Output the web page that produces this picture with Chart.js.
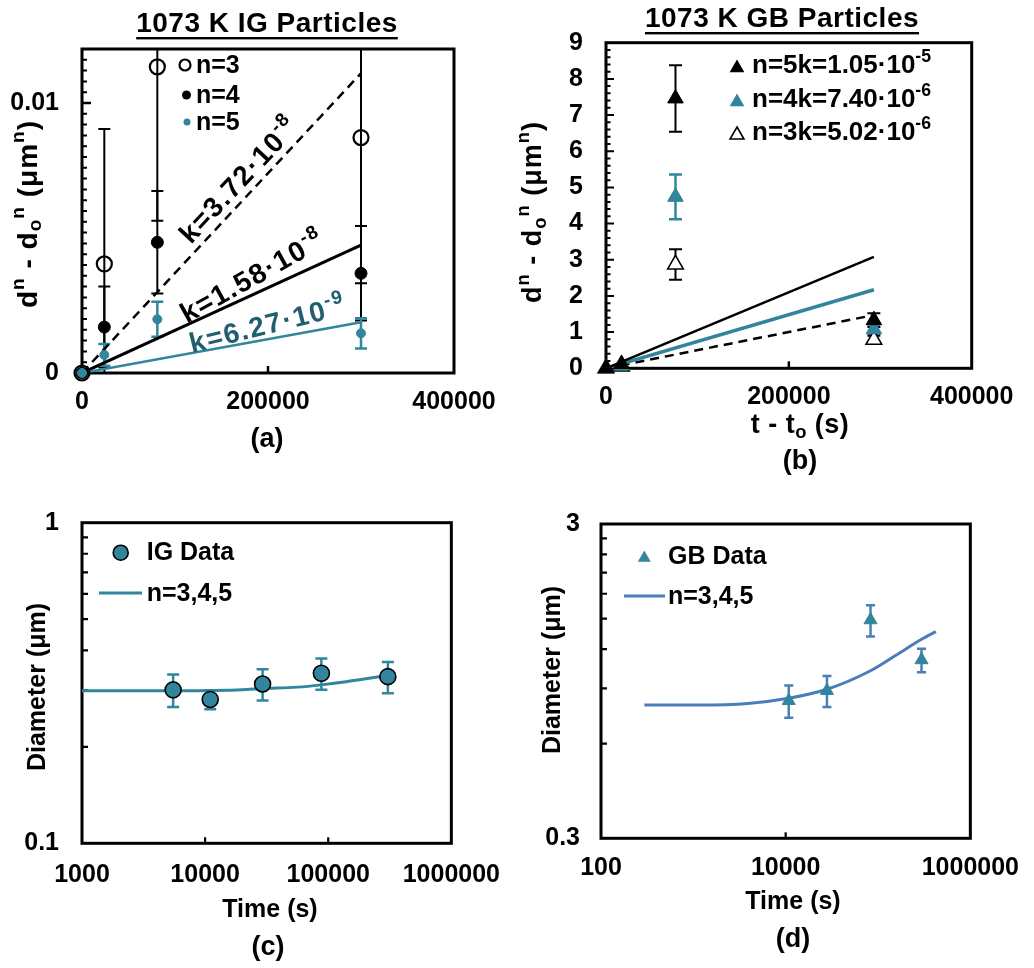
<!DOCTYPE html>
<html><head><meta charset="utf-8"><title>1073 K particle coarsening</title>
<script src="https://cdn.jsdelivr.net/npm/chart.js@4.4.1/dist/chart.umd.min.js"></script>
<style>
html,body{margin:0;padding:0;background:#fff;overflow:hidden}
#fig{position:relative;width:1034px;height:968px;background:#fff}
canvas{position:absolute;display:block}
</style></head><body>
<div id="fig">
<canvas id="pa" width="517" height="480" style="left:0;top:0"></canvas>
<canvas id="pb" width="517" height="480" style="left:517px;top:0"></canvas>
<canvas id="pc" width="517" height="498" style="left:0;top:470px"></canvas>
<canvas id="pd" width="517" height="498" style="left:517px;top:470px"></canvas>
</div>
<script>
// ---------- panel (a): 1073 K IG particles, d^n - d0^n vs t - t0 ----------
const igDt    = [0, 24000, 81000, 300000];
const igN3    = [0, 0.00404, 0.01134, 0.00872];
const igN3Err = [0, 0.0050, 0.0057, 0.0054];
const igN4    = [0, 0.0017, 0.00484, 0.00369];
const igN4Err = [0, 0.0015, 0.0019, 0.00175];
const igN5    = [0, 0.00067, 0.00199, 0.00147];
const igN5Err = [0, 0.0004, 0.00065, 0.00056];
const igFitDt = [0, 300000];
const igFitN3 = [0, 0.0111];
const igFitN4 = [0, 0.00474];
const igFitN5 = [0, 0.00188];
const aXTicks = [0, 200000, 400000];
const aYTicks = [0, 0.01];

// ---------- panel (b): 1073 K GB particles ----------
const gbDt    = [0, 17000, 76000, 293000];
const gbN5    = [0, 0.12, 7.46, 1.33];
const gbN5Err = [0, 0, 0.92, 0.19];
const gbN4    = [0, 0.08, 4.74, 1.08];
const gbN4Err = [0, 0, 0.62, 0.13];
const gbN3    = [0, 0.05, 2.87, 0.79];
const gbN3Err = [0, 0, 0.42, 0.11];
const gbFitDt = [0, 293000];
const gbFitN5 = [0, 3.08];
const gbFitN4 = [0, 2.17];
const gbFitN3 = [0, 1.47];
const bXTicks = [0, 200000, 400000];
const bYTicks = [0, 1, 2, 3, 4, 5, 6, 7, 8, 9];

// ---------- panel (c): IG diameter vs time ----------
const igTime      = [5500, 11000, 29300, 88000, 305000];
const igDiam      = [0.301, 0.281, 0.314, 0.339, 0.331];
const igDiamErr   = [0.035, 0.019, 0.035, 0.038, 0.037];
const igCurveTime = [1000, 5500, 15000, 30000, 56000, 88000, 140000, 190000, 330000];
const igCurveDiam = [0.299, 0.299, 0.300, 0.304, 0.307, 0.312, 0.319, 0.325, 0.335];
const cXTicks = [1000, 10000, 100000, 1000000];
const cYTicks = [0.1, 1];

// ---------- panel (d): GB diameter vs time ----------
const gbTime      = [10800, 28000, 83000, 296000];
const gbDiam      = [0.822, 0.885, 1.485, 1.108];
const gbDiamErr   = [0.097, 0.10, 0.17, 0.095];
const gbCurveTime = [295, 1150, 3900, 10800, 28000, 83000, 158000, 296000, 423000];
const gbCurveDiam = [0.797, 0.797, 0.806, 0.837, 0.894, 1.024, 1.149, 1.289, 1.363];
const dXTicks = [100, 10000, 1000000];
const dYTicks = [0.3, 3];

// ---------- styling ----------
const FONT = '"Liberation Sans", Arial, Helvetica, sans-serif';
const TEAL = '#31859C';
const DTEAL = '#215F70';
const BLUE = '#4A7EBB';
const fnt = s => `bold ${s}px ${FONT}`;
const pts = (xs, ys) => xs.map((x, i) => ({x: x, y: ys[i]}));

function frame(ctx, a) {
  ctx.save(); ctx.strokeStyle = '#000'; ctx.lineWidth = 3;
  ctx.strokeRect(a.left, a.top, a.right - a.left, a.bottom - a.top); ctx.restore();
}
function yTicksIn(ctx, a, y, vals, lenFn, lw) {
  ctx.save(); ctx.strokeStyle = '#000'; ctx.lineWidth = lw; ctx.beginPath();
  vals.forEach(v => { const p = y.getPixelForValue(v); ctx.moveTo(a.left, p); ctx.lineTo(a.left + lenFn(v), p); });
  ctx.stroke(); ctx.restore();
}
function xTicksIn(ctx, a, x, vals, len, lw) {
  ctx.save(); ctx.strokeStyle = '#000'; ctx.lineWidth = lw; ctx.beginPath();
  vals.forEach(v => { const p = x.getPixelForValue(v); ctx.moveTo(p, a.bottom); ctx.lineTo(p, a.bottom - len); });
  ctx.stroke(); ctx.restore();
}
function errBars(ctx, a, x, y, xs, ys, es, color, lw, cap) {
  ctx.save(); ctx.beginPath(); ctx.rect(a.left, a.top, a.right - a.left, a.bottom - a.top); ctx.clip();
  ctx.strokeStyle = color; ctx.lineWidth = lw; ctx.beginPath();
  xs.forEach((xv, i) => {
    if (!es[i]) return;
    const px = x.getPixelForValue(xv);
    const t = y.getPixelForValue(ys[i] + es[i]);
    const b = y.getPixelForValue(ys[i] - es[i]);
    ctx.moveTo(px, t); ctx.lineTo(px, b);
    ctx.moveTo(px - cap, t); ctx.lineTo(px + cap, t);
    ctx.moveTo(px - cap, b); ctx.lineTo(px + cap, b);
  });
  ctx.stroke(); ctx.restore();
}
function marker(ctx, style, x, y, r, fill, stroke, lw) {
  ctx.save(); ctx.beginPath();
  if (style === 'circle') ctx.arc(x, y, r, 0, Math.PI * 2);
  else { for (let k = 0; k < 3; k++) { const ang = -Math.PI / 2 + k * 2 * Math.PI / 3; const px = x + r * Math.cos(ang), py = y + r * Math.sin(ang); k ? ctx.lineTo(px, py) : ctx.moveTo(px, py); } ctx.closePath(); }
  ctx.fillStyle = fill; ctx.fill();
  if (lw) { ctx.strokeStyle = stroke; ctx.lineWidth = lw; ctx.stroke(); }
  ctx.restore();
}
// rich text: segments [text, 'sup'|'sub'|undefined]
function rich(ctx, segs, x, y, o) {
  const size = o.size, ls = o.ls || 0;
  ctx.save(); ctx.translate(x, y); ctx.rotate((o.rot || 0) * Math.PI / 180);
  ctx.textBaseline = 'middle'; ctx.textAlign = 'left'; ctx.fillStyle = o.color || '#000';
  ctx.letterSpacing = ls + 'px';
  let total = 0;
  const parts = segs.map(s => { const sz = s[1] ? size * 0.68 : size; ctx.font = fnt(sz); const w = ctx.measureText(s[0]).width; total += w; return {t: s[0], k: s[1], sz: sz, w: w}; });
  let cx = o.align === 'left' ? 0 : -total / 2;
  parts.forEach(p => { ctx.font = fnt(p.sz); const dy = p.k === 'sup' ? -size * 0.36 : p.k === 'sub' ? size * 0.24 : 0; ctx.fillText(p.t, cx, dy); cx += p.w; });
  ctx.restore();
  return total;
}
function heading(ctx, text, cx, cy, uy) {
  ctx.save(); ctx.font = fnt(28); ctx.letterSpacing = '0.5px'; ctx.textAlign = 'center'; ctx.textBaseline = 'middle'; ctx.fillStyle = '#000';
  ctx.fillText(text, cx, cy); const w = ctx.measureText(text).width;
  ctx.fillRect(cx - w / 2, uy - 1, w, 2.4); ctx.restore();
}
function plain(ctx, text, x, y, size, align, ls) {
  ctx.save(); ctx.font = fnt(size); ctx.letterSpacing = (ls || 0) + 'px'; ctx.textAlign = align || 'center'; ctx.textBaseline = 'middle'; ctx.fillStyle = '#000';
  ctx.fillText(text, x, y); ctx.restore();
}

function axis(A, horiz, P) {
  return {
    type: A.type, min: A.min, max: A.max, position: horiz ? 'bottom' : 'left',
    grid: {display: false, drawTicks: false}, border: {display: false},
    ticks: {color: '#000', font: {family: FONT, size: 25, weight: 'bold', lineHeight: 1.2}, padding: A.pad,
            autoSkip: false, maxRotation: 0, minRotation: 0, callback: v => String(v)},
    afterBuildTicks: s => { s.ticks = A.ticks.map(v => ({value: v})); },
    afterFit: s => { if (horiz) s.height = P.H - P.area.b; else s.width = P.area.l; },
    title: {display: false}
  };
}
function build(id, P) {
  const extras = {
    id: 'extras',
    beforeDatasetsDraw(chart) { const c = chart.ctx, a = chart.chartArea; P.before(c, a, chart.scales.x, chart.scales.y); },
    afterDatasetsDraw(chart) { const c = chart.ctx, a = chart.chartArea; P.after(c, a, chart.scales.x, chart.scales.y); }
  };
  return new Chart(document.getElementById(id), {
    type: 'scatter',
    data: {datasets: P.datasets},
    options: {
      responsive: false, animation: false, devicePixelRatio: 1,
      layout: {padding: {left: 0, top: P.area.t, right: P.W - P.area.r, bottom: 0}},
      plugins: {legend: {display: false}, tooltip: {enabled: false}, title: {display: false}},
      scales: {x: axis(P.x, true, P), y: axis(P.y, false, P)}
    },
    plugins: [extras]
  });
}
const line = (data, color, w, dash, extra) => Object.assign({data: data, showLine: true, borderColor: color, borderWidth: w, borderDash: dash || [], pointRadius: 0, fill: false}, extra || {});
const dots = (data, style, r, fill, stroke, bw) => ({data: data, pointStyle: style, pointRadius: r, backgroundColor: fill, borderColor: stroke, borderWidth: bw, showLine: false, clip: false});

const yTitle = [['d'], ['n', 'sup'], [' - d'], ['o', 'sub'], ['n', 'sup'], [' (μm'], ['n', 'sup'], [')']];

// ---------- (a) ----------
build('pa', {
  W: 517, H: 480, area: {l: 82, r: 454, t: 49, b: 373},
  x: {type: 'linear', min: 0, max: 400000, ticks: aXTicks, pad: 14},
  y: {type: 'linear', min: 0, max: 0.012, ticks: aYTicks, pad: 23},
  datasets: [
    dots(pts(igDt, igN5), 'circle', 4.5, TEAL, TEAL, 1),
    dots(pts(igDt, igN4), 'circle', 6, '#000', '#000', 1),
    dots(pts(igDt, igN3), 'circle', 7.5, 'rgba(255,255,255,0)', '#000', 2.2),
    line(pts(igFitDt, igFitN5), TEAL, 2.5),
    line(pts(igFitDt, igFitN4), '#000', 3),
    line(pts(igFitDt, igFitN3), '#000', 2.5, [9, 6])
  ],
  before(ctx, a, x, y) {
    frame(ctx, a);
    const minor = []; for (let k = 1; k <= 29; k++) minor.push(k * 0.0004);
    yTicksIn(ctx, a, y, minor, v => 5, 2);
    yTicksIn(ctx, a, y, [0.01], v => 9, 2.5);
    xTicksIn(ctx, a, x, [200000], 7, 2.5);
    errBars(ctx, a, x, y, igDt, igN3, igN3Err, '#000', 2, 6);
    errBars(ctx, a, x, y, igDt, igN4, igN4Err, '#000', 2, 6);
    errBars(ctx, a, x, y, igDt, igN5, igN5Err, TEAL, 2.5, 6);
  },
  after(ctx, a, x, y) {
    marker(ctx, 'circle', 185, 65, 5.5, '#fff', '#000', 2.2);
    marker(ctx, 'circle', 186.5, 95, 4.5, '#000', '#000', 0);
    marker(ctx, 'circle', 187, 122, 3.5, TEAL, TEAL, 0);
    plain(ctx, 'n=3', 196, 66, 25, 'left'); plain(ctx, 'n=4', 196, 96, 25, 'left'); plain(ctx, 'n=5', 196, 123, 25, 'left');
    rich(ctx, [['k=3.72·10'], ['-8', 'sup']], 240, 181, {size: 28, ls: 1.5, rot: -47});
    rich(ctx, [['k=1.58·10'], ['-8', 'sup']], 253, 278, {size: 28, ls: 1.5, rot: -29});
    rich(ctx, [['k=6.27·10'], ['-9', 'sup']], 268, 326, {size: 28, ls: 1.5, rot: -14, color: DTEAL});
    heading(ctx, '1073 K IG Particles', 267, 24, 38);
    rich(ctx, yTitle, 29, 214, {size: 28, ls: 1, rot: -90});
    plain(ctx, '(a)', 267, 440, 27);
  }
});

// ---------- (b) ----------
build('pb', {
  W: 517, H: 480, area: {l: 89, r: 454.7, t: 42.7, b: 368.3},
  x: {type: 'linear', min: 0, max: 400000, ticks: bXTicks, pad: 14},
  y: {type: 'linear', min: 0, max: 9, ticks: bYTicks, pad: 23},
  datasets: [
    dots(pts(gbDt, gbN5), 'triangle', 9, '#000', '#000', 1),
    dots(pts(gbDt, gbN4), 'triangle', 9, TEAL, TEAL, 1),
    dots(pts(gbDt, gbN3), 'triangle', 9, '#fff', '#000', 1.6),
    line(pts(gbFitDt, gbFitN5), '#000', 2.5),
    line(pts(gbFitDt, gbFitN4), TEAL, 3.5),
    line(pts(gbFitDt, gbFitN3), '#000', 2.5, [9, 6])
  ],
  before(ctx, a, x, y) {
    frame(ctx, a);
    const minor = []; for (let k = 1; k < 45; k++) minor.push(k * 0.2);
    yTicksIn(ctx, a, y, minor, v => (Math.abs(v - Math.round(v)) < 1e-6 ? 8 : 4.5), 2);
    xTicksIn(ctx, a, x, [200000], 7, 2.5);
    errBars(ctx, a, x, y, gbDt, gbN5, gbN5Err, '#000', 2, 6.5);
    errBars(ctx, a, x, y, gbDt, gbN4, gbN4Err, TEAL, 2.5, 6.5);
    errBars(ctx, a, x, y, gbDt, gbN3, gbN3Err, '#000', 2, 6.5);
  },
  after(ctx, a, x, y) {
    marker(ctx, 'triangle', 220, 68, 8.5, '#000', '#000', 0);
    marker(ctx, 'triangle', 220, 102, 8.5, TEAL, TEAL, 0);
    marker(ctx, 'triangle', 220, 135, 8, '#fff', '#000', 1.6);
    rich(ctx, [['n=5k=1.05·10'], ['-5', 'sup']], 235, 66, {size: 26, ls: 0, align: 'left'});
    rich(ctx, [['n=4k=7.40·10'], ['-6', 'sup']], 235, 100, {size: 26, ls: 0, align: 'left'});
    rich(ctx, [['n=3k=5.02·10'], ['-6', 'sup']], 235, 133, {size: 26, ls: 0, align: 'left'});
    heading(ctx, '1073 K GB Particles', 265, 19, 33);
    rich(ctx, yTitle, 17, 212, {size: 27, ls: 1, rot: -90});
    rich(ctx, [['t - t'], ['o', 'sub'], [' (s)']], 283, 426, {size: 27, ls: 0.5});
    plain(ctx, '(b)', 283, 462, 27);
  }
});

// ---------- (c) ----------
build('pc', {
  W: 517, H: 498, area: {l: 82, r: 456.7, t: 52.7, b: 373.3},
  x: {type: 'logarithmic', min: 1000, max: 1000000, ticks: cXTicks, pad: 17},
  y: {type: 'logarithmic', min: 0.1, max: 1, ticks: cYTicks, pad: 23},
  datasets: [
    dots(pts(igTime, igDiam), 'circle', 8, TEAL, '#000', 1.6),
    line(pts(igCurveTime, igCurveDiam), TEAL, 3, [], {cubicInterpolationMode: 'monotone'})
  ],
  before(ctx, a, x, y) {
    frame(ctx, a);
    yTicksIn(ctx, a, y, [0.2, 0.3, 0.4, 0.5, 0.6, 0.7, 0.8, 0.9], v => 6, 2.2);
    xTicksIn(ctx, a, x, [10000, 100000], 6, 2.2);
    errBars(ctx, a, x, y, igTime, igDiam, igDiamErr, TEAL, 2.5, 6);
  },
  after(ctx, a, x, y) {
    marker(ctx, 'circle', 120.7, 82.7, 7.5, TEAL, '#000', 1.6);
    plain(ctx, 'IG Data', 146.7, 83, 25, 'left');
    ctx.save(); ctx.strokeStyle = TEAL; ctx.lineWidth = 3; ctx.beginPath(); ctx.moveTo(99, 123); ctx.lineTo(142, 123); ctx.stroke(); ctx.restore();
    plain(ctx, 'n=3,4,5', 146.7, 124, 25, 'left');
    rich(ctx, [['Diameter (μm)']], 38, 217, {size: 25, rot: -90});
    plain(ctx, 'Time (s)', 270, 440, 25);
    plain(ctx, '(c)', 268, 478, 27);
  }
});

// ---------- (d) ----------
build('pd', {
  W: 517, H: 498, area: {l: 84, r: 458, t: 54, b: 368.3},
  x: {type: 'logarithmic', min: 100, max: 1000000, ticks: dXTicks, pad: 15},
  y: {type: 'logarithmic', min: 0.3, max: 3, ticks: dYTicks, pad: 21},
  datasets: [
    dots(pts(gbTime, gbDiam), 'triangle', 7.5, TEAL, TEAL, 1),
    line(pts(gbCurveTime, gbCurveDiam), BLUE, 3, [], {cubicInterpolationMode: 'monotone'})
  ],
  before(ctx, a, x, y) {
    frame(ctx, a);
    yTicksIn(ctx, a, y, [0.6, 0.9, 1.2, 1.5, 1.8, 2.1, 2.4, 2.7], v => 6, 2.2);
    xTicksIn(ctx, a, x, [10000], 6, 2.2);
    errBars(ctx, a, x, y, gbTime, gbDiam, gbDiamErr, BLUE, 2.5, 4.5);
  },
  after(ctx, a, x, y) {
    marker(ctx, 'triangle', 127.3, 88, 7.5, TEAL, TEAL, 0);
    plain(ctx, 'GB Data', 151, 87, 25, 'left');
    ctx.save(); ctx.strokeStyle = BLUE; ctx.lineWidth = 3; ctx.beginPath(); ctx.moveTo(107, 126); ctx.lineTo(148, 126); ctx.stroke(); ctx.restore();
    plain(ctx, 'n=3,4,5', 151, 127, 25, 'left');
    rich(ctx, [['Diameter (μm)']], 36, 200, {size: 25, rot: -90});
    plain(ctx, 'Time (s)', 276, 432, 25);
    plain(ctx, '(d)', 276, 470, 27);
  }
});
</script></body></html>
